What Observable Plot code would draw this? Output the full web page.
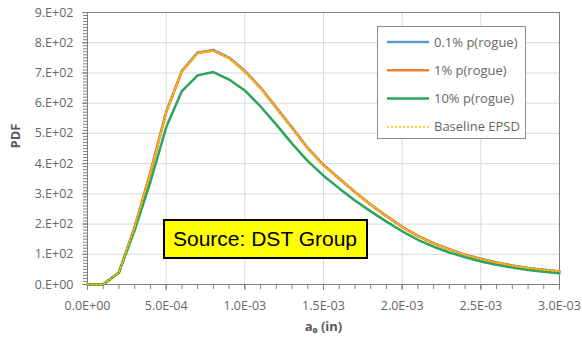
<!DOCTYPE html>
<html>
<head>
<meta charset="utf-8">
<script src="https://cdn.jsdelivr.net/npm/d3@7"></script>
<script src="https://cdn.jsdelivr.net/npm/@observablehq/plot@0.6"></script>
<style>
  html, body { margin: 0; padding: 0; background: #fff; }
  #wrap { position: relative; width: 582px; height: 341px; overflow: hidden; font-family: "Open Sans", sans-serif; }
  #legend { position: absolute; left: 377px; top: 26px; width: 149px; height: 113px; border: 1px solid #8c8c8c; background: #fff; box-sizing: border-box; }
  #source { position: absolute; left: 163px; top: 219px; width: 205px; height: 40px; box-sizing: border-box; border: 2px solid #000; background: #ffff00; font-family: "Liberation Sans", Arial, sans-serif; font-size: 21px; line-height: 36px; padding-left: 8px; color: #000; }
</style>
</head>
<body>
<div id="wrap"></div>
<script>
// ---- data ----
const a0 = [0, 0.0001, 0.0002, 0.0003, 0.0004, 0.0005, 0.0006, 0.0007, 0.0008, 0.0009,
            0.0010, 0.0011, 0.0012, 0.0013, 0.0014, 0.0015, 0.0016, 0.0017, 0.0018, 0.0019,
            0.0020, 0.0021, 0.0022, 0.0023, 0.0024, 0.0025, 0.0026, 0.0027, 0.0028, 0.0029, 0.0030];
const pdf01 = [0, 0, 40, 191, 372, 572, 707, 768, 776, 751, 707, 652, 586, 520, 452, 396, 351, 306, 265, 227, 191, 161, 137, 117, 99, 85, 73, 63, 55, 49, 44];
const pdf1  = [0, 0, 40, 190, 370, 570, 705, 766, 774, 749, 705, 650, 584, 518, 450, 395, 350, 305, 264, 226, 190, 160, 136, 116, 98, 84, 72, 62, 54, 48, 43];
const pdf10 = [0, 0, 40, 180, 340, 520, 640, 692, 703, 678, 642, 589, 529, 466, 408, 360, 318, 278, 242, 208, 176, 148, 125, 106, 90, 76, 65, 56, 48, 42, 37];
const pdfBase = [0, 0, 40, 190, 370, 570, 705, 766, 774, 749, 705, 650, 584, 518, 450, 395, 350, 305, 264, 226, 190, 160, 136, 116, 98, 84, 72, 62, 54, 48, 43];

const seriesNames = ["0.1% p(rogue)", "1% p(rogue)", "10% p(rogue)", "Baseline EPSD"];
const seriesColors = ["#5b9bd5", "#ed7d31", "#2aa55a", "#ffc000"];

const xTicks = [0, 0.0005, 0.001, 0.0015, 0.002, 0.0025, 0.003];
const xTickLabels = ["0.0E+00", "5.0E-04", "1.0E-03", "1.5E-03", "2.0E-03", "2.5E-03", "3.0E-03"];
const yTicks = [0, 100, 200, 300, 400, 500, 600, 700, 800, 900];
const yTickLabels = ["0.E+00", "1.E+02", "2.E+02", "3.E+02", "4.E+02", "5.E+02", "6.E+02", "7.E+02", "8.E+02", "9.E+02"];
const xLabel = "a\u2080 (in)";
const yLabel = "PDF";
const sourceText = "Source: DST Group";

// ---- build ----
const seriesValues = [pdf01, pdf1, pdf10, pdfBase];
const rows = [];
seriesValues.forEach((vals, s) => vals.forEach((v, i) => rows.push({x: a0[i], y: v, s: seriesNames[s]})));
const bySeries = name => rows.filter(r => r.s === name);

const xMinor = d3.range(0, 31).map(i => i / 10000);
const yMinor = d3.range(0, 91).map(i => i * 10);
const grid = "#d9d9d9";
const axisCol = "#666666";

const chart = Plot.plot({
  width: 582, height: 341,
  marginLeft: 87, marginRight: 23, marginTop: 12, marginBottom: 57,
  x: {domain: [0, 0.003]},
  y: {domain: [0, 900]},
  style: {fontFamily: "'Open Sans', sans-serif", fontSize: "12.5px", color: axisCol, background: "transparent", overflow: "visible"},
  marks: [
    Plot.gridX(xTicks, {stroke: grid, strokeOpacity: 1, strokeWidth: 1}),
    Plot.gridY(yTicks, {stroke: grid, strokeOpacity: 1, strokeWidth: 1}),
    Plot.axisY(yMinor, {tickSize: 4, tickFormat: () => "", label: null, stroke: "#7f7f7f"}),
    Plot.axisX(xMinor, {tickSize: 5, tickFormat: () => "", label: null, stroke: "#7f7f7f"}),
    Plot.axisY(yTicks, {tickSize: 5, tickPadding: 9, tickFormat: d => yTickLabels[yTicks.indexOf(d)], label: null, stroke: "#7f7f7f"}),
    Plot.axisX(xTicks, {tickSize: 6, tickPadding: 11, tickFormat: d => xTickLabels[xTicks.indexOf(d)], label: null, stroke: "#7f7f7f"}),
    Plot.frame({stroke: "#7f7f7f", strokeWidth: 1}),
    Plot.line(bySeries(seriesNames[0]), {x: "x", y: "y", stroke: seriesColors[0], strokeWidth: 2.5}),
    Plot.line(bySeries(seriesNames[1]), {x: "x", y: "y", stroke: seriesColors[1], strokeWidth: 2.5}),
    Plot.line(bySeries(seriesNames[2]), {x: "x", y: "y", stroke: seriesColors[2], strokeWidth: 2.5}),
    Plot.line(bySeries(seriesNames[3]), {x: "x", y: "y", stroke: seriesColors[3], strokeWidth: 1.5, strokeDasharray: "2,2"}),
    Plot.text([yLabel], {frameAnchor: "left", dx: -72, rotate: -90, fontWeight: "bold", fontSize: 13, fill: "#595959"}),
    Plot.text([xLabel], {frameAnchor: "bottom", dy: 46, fontWeight: "bold", fontSize: 13, fill: "#595959"})
  ]
});
const wrap = document.getElementById("wrap");
wrap.appendChild(chart);

// legend
const leg = document.createElement("div");
leg.id = "legend";
const ns = "http://www.w3.org/2000/svg";
const lsvg = document.createElementNS(ns, "svg");
lsvg.setAttribute("width", 147); lsvg.setAttribute("height", 111);
seriesNames.forEach((name, i) => {
  const y = 15 + i * 28.3;
  const ln = document.createElementNS(ns, "line");
  ln.setAttribute("x1", 9); ln.setAttribute("x2", 51);
  ln.setAttribute("y1", y); ln.setAttribute("y2", y);
  ln.setAttribute("stroke", seriesColors[i]);
  ln.setAttribute("stroke-width", i === 3 ? 1.5 : 2.5);
  if (i === 3) ln.setAttribute("stroke-dasharray", "2,2");
  lsvg.appendChild(ln);
  const t = document.createElementNS(ns, "text");
  t.setAttribute("x", 56); t.setAttribute("y", y);
  t.setAttribute("dy", "0.35em");
  t.setAttribute("font-size", "13px");
  t.setAttribute("font-family", "'Open Sans', sans-serif");
  t.setAttribute("fill", axisCol);
  t.textContent = name;
  lsvg.appendChild(t);
});
leg.appendChild(lsvg);
wrap.appendChild(leg);

// source box
const src = document.createElement("div");
src.id = "source";
src.textContent = sourceText;
wrap.appendChild(src);
</script>
</body>
</html>
